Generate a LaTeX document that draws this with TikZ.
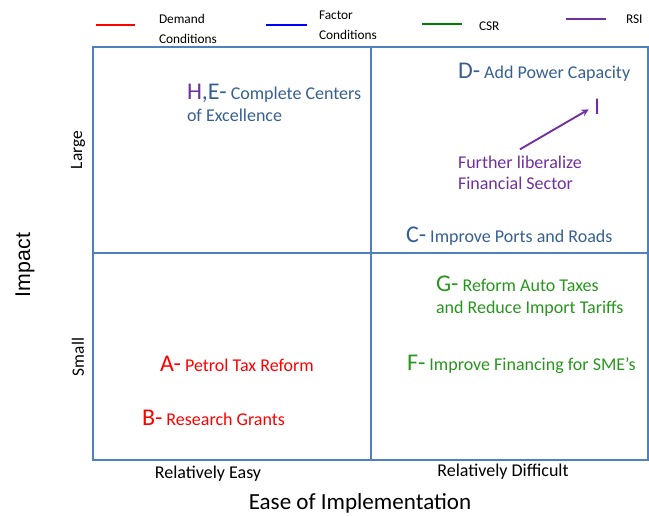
\documentclass[tikz,border=0pt]{standalone}
\usepackage{fontspec}
\setmainfont{Carlito}
\newfontfamily\arialfont{Liberation Sans}
\usepackage{tikz}

\definecolor{gridblue}{RGB}{79,129,189}
\definecolor{factorblue}{RGB}{55,96,146}
\definecolor{demandred}{RGB}{255,0,0}
\definecolor{csrgreen}{RGB}{40,150,30}
\definecolor{rsipurple}{RGB}{112,48,160}

\newcommand{\biglet}[1]{{\fontsize{18}{18}\selectfont #1}}

\begin{document}
\begin{tikzpicture}[x=0.75pt,y=-0.75pt,
	every node/.style = {inner sep=0pt, outer sep=0pt},
	item/.style = {anchor=west, align=left, font=\fontsize{13.5}{17}\selectfont},
	legendtext/.style = {anchor=west, align=left, font=\fontsize{10}{15}\selectfont},
	legendline/.style = {line width=2pt},
	axislabel/.style = {font=\fontsize{13}{14}\selectfont},
	quadline/.style = {gridblue, line width=1.6pt}
]
\useasboundingbox (0,0) rectangle (649,516);

% legend
\draw[legendline, red] (96,25) -- (135,25);
\node[legendtext] (demand) at (159,29) {Demand\\Conditions};
\draw[legendline, blue] (266,25) -- (307,25);
\node[legendtext] (factor) at (319,25) {Factor\\Conditions};
\draw[legendline, green!50!black] (422,24) -- (462,24);
\node[legendtext] (csr) at (479,26) {CSR};
\draw[legendline, rsipurple] (566,19) -- (606,19);
\node[legendtext] (rsi) at (626,19) {RSI};

% quadrants
\coordinate (nw) at (93,47);
\coordinate (se) at (648,460);
\coordinate (mid) at (371,253);
\draw[gridblue, line width=1.2pt] (nw) rectangle (se);
\draw[quadline] (mid |- nw) -- (mid |- se);
\draw[quadline] (mid -| nw) -- (mid -| se);

% items
\node[item, factorblue] (he) at (187,103) {{\color{rsipurple}\biglet{H}}\biglet{,E-} Complete Centers\\of Excellence};
\node[item, factorblue] (d) at (458,72) {\biglet{D-} Add Power Capacity};
\node[item, rsipurple] (i) at (594,107) {\biglet{I}};
\node[item, rsipurple, font=\fontsize{13.5}{16}\selectfont] (lib) at (458,173) {Further liberalize\\Financial Sector};
\draw[rsipurple, line width=1.4pt, -stealth] ([yshift=5pt]lib.north) -- ([xshift=-4pt,yshift=4pt]i.south west);
\node[item, factorblue] (c) at (406,236) {\biglet{C-} Improve Ports and Roads};
\node[item, csrgreen] (g) at (436,296) {\biglet{G-} Reform Auto Taxes\\and Reduce Import Tariffs};
\node[item, csrgreen] (f) at (407,364) {\biglet{F-} Improve Financing for SME's};
\node[item, demandred] (a) at (160,364) {\biglet{A-} Petrol Tax Reform};
\node[item, demandred] (b) at (142,418) {\biglet{B-} Research Grants};

% axes
\node[axislabel, rotate=90] (large) at (78,150) {Large};
\node[axislabel, rotate=90] (small) at (78,357) {Small};
\node[rotate=90, font=\arialfont\fontsize{16}{16}\selectfont] (impact) at (25,265) {Impact};
\node[axislabel, font=\fontsize{13.5}{14}\selectfont] (easy) at (208,474) {Relatively Easy};
\node[axislabel, font=\fontsize{13.5}{14}\selectfont] (hard) at (503,472) {Relatively Difficult};
\node[font=\fontsize{17.3}{18}\selectfont] (ease) at (360,503) {Ease of Implementation};
\end{tikzpicture}
\end{document}
